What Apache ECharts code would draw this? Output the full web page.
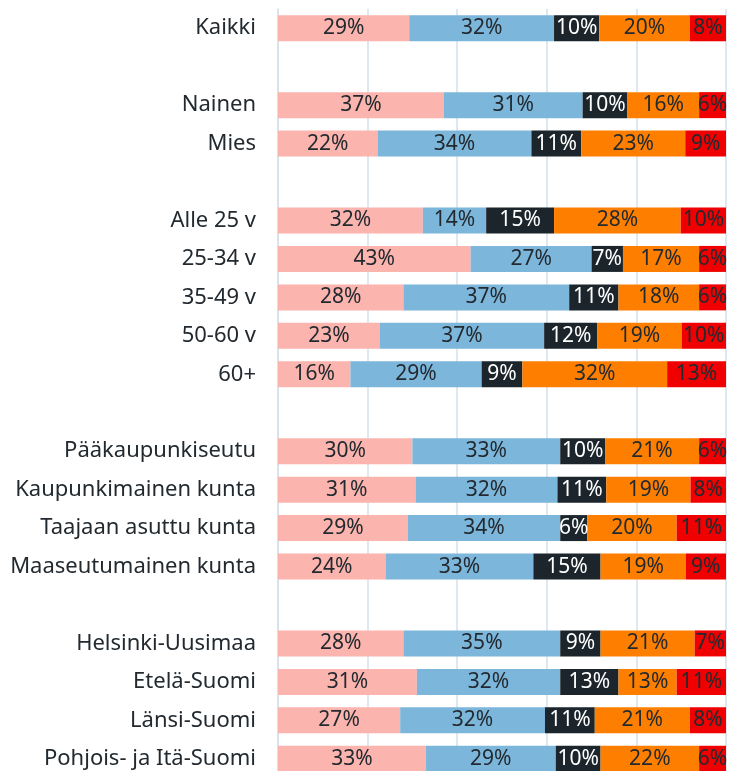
<!DOCTYPE html>
<html>
<head>
<meta charset="utf-8">
<script src="https://cdn.jsdelivr.net/npm/echarts@6/dist/echarts.min.js"></script>
<style>
  html, body { margin: 0; padding: 0; background: #fff; }
  #main { width: 730px; height: 771px; }
</style>
</head>
<body>
<div id="main"></div>
<script>
// rivit ('' = tyhjä väli)
var categories = ['Kaikki', '', 'Nainen', 'Mies', '', 'Alle 25 v', '25-34 v', '35-49 v', '50-60 v', '60+', '',
  'Pääkaupunkiseutu', 'Kaupunkimainen kunta', 'Taajaan asuttu kunta', 'Maaseutumainen kunta', '',
  'Helsinki-Uusimaa', 'Etelä-Suomi', 'Länsi-Suomi', 'Pohjois- ja Itä-Suomi'];

// prosentit vastausvaihtoehdoittain, null = tyhjä rivi
var s1 = [29, null, 37, 22, null, 32, 43, 28, 23, 16, null, 30, 31, 29, 24, null, 28, 31, 27, 33];
var s2 = [32, null, 31, 34, null, 14, 27, 37, 37, 29, null, 33, 32, 34, 33, null, 35, 32, 32, 29];
var s3 = [10, null, 10, 11, null, 15, 7, 11, 12, 9, null, 10, 11, 6, 15, null, 9, 13, 11, 10];
var s4 = [20, null, 16, 23, null, 28, 17, 18, 19, 32, null, 21, 19, 20, 19, null, 21, 13, 21, 22];
var s5 = [8, null, 6, 9, null, 10, 6, 6, 10, 13, null, 6, 8, 11, 9, null, 7, 11, 8, 6];

var allSeries = [s1, s2, s3, s4, s5];
var colors = ['#fbb4ae', '#7db6db', '#1b252b', '#fe7f00', '#f00000'];
var textColors = ['#222a30', '#222a30', '#ffffff', '#222a30', '#222a30'];

// rivisummat, jotta palkit täyttävät 100 %
var sums = categories.map(function (c, i) {
  var t = 0;
  allSeries.forEach(function (s) { if (s[i] != null) t += s[i]; });
  return t;
});

var myChart = echarts.init(document.getElementById('main'));

var series = allSeries.map(function (s, k) {
  return {
    type: 'bar',
    stack: 'total',
    barWidth: 26,
    itemStyle: { color: colors[k] },
    label: {
      show: true,
      position: 'inside',
      color: textColors[k],
      fontSize: 21,
      fontFamily: 'Noto Sans',
      formatter: function (p) { return s[p.dataIndex] + '%'; }
    },
    data: s.map(function (v, i) { return v == null ? null : v / sums[i] * 100; })
  };
});

var option = {
  animation: false,
  grid: { left: 278, right: 4, top: 9, height: 769, outerBoundsMode: 'none' },
  xAxis: {
    type: 'value',
    min: 0,
    max: 100,
    interval: 20,
    axisLabel: { show: false },
    axisLine: { show: false },
    axisTick: { show: false },
    splitLine: { lineStyle: { color: '#d6e1ea', width: 1.5 } }
  },
  yAxis: {
    type: 'category',
    inverse: true,
    data: categories,
    axisTick: { show: false },
    axisLine: { lineStyle: { color: '#d6e1ea', width: 1.5 } },
    axisLabel: { color: '#222a30', fontSize: 22, fontFamily: 'Noto Sans', margin: 22 }
  },
  series: series
};

myChart.setOption(option);
</script>
</body>
</html>
